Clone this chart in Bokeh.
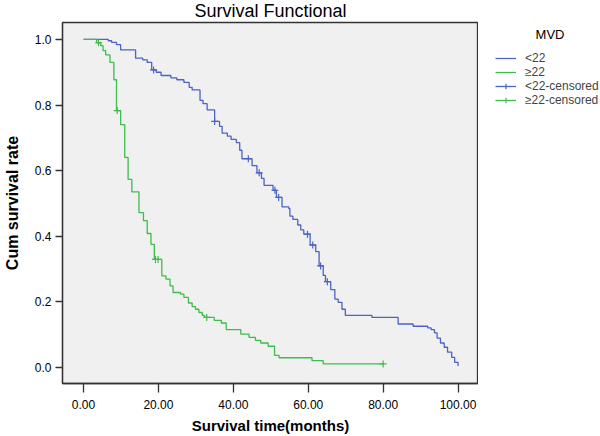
from bokeh.plotting import figure
from bokeh.layouts import row
from bokeh.models import Range1d, FixedTicker, Legend, LegendItem, Label
from bokeh.embed import file_html
from bokeh.resources import INLINE

# ---------------- data ----------------
# MVD < 22 : Kaplan-Meier steps (time in months, cumulative survival)
low_time = [0.0, 6.6, 7.5, 8.8, 9.9, 13.9, 15.8, 17.0, 18.2, 19.4, 20.7, 23.3, 24.9,
            26.8, 28.2, 29.0, 31.1, 31.9, 33.0, 35.0, 36.3, 37.0, 38.4, 39.4, 40.8,
            41.7, 42.3, 45.0, 46.3, 47.5, 48.2, 50.6, 51.5, 53.0, 54.8, 55.1, 55.9,
            57.2, 58.0, 58.8, 60.5, 62.0, 62.9, 64.0, 64.6, 66.0, 67.1, 68.0, 69.0,
            69.9, 77.0, 84.0, 88.0, 91.9, 92.8, 93.7, 94.4, 95.3, 96.3, 97.2, 98.3,
            99.1, 100.0]
low_surv = [1.000, 0.996, 0.991, 0.984, 0.968, 0.943, 0.938, 0.930, 0.907, 0.900, 0.890,
            0.883, 0.877, 0.869, 0.854, 0.846, 0.814, 0.804, 0.785, 0.750, 0.735, 0.714,
            0.705, 0.695, 0.685, 0.662, 0.636, 0.615, 0.593, 0.576, 0.555, 0.540, 0.518,
            0.489, 0.484, 0.461, 0.451, 0.434, 0.419, 0.406, 0.373, 0.353, 0.309, 0.280,
            0.261, 0.237, 0.208, 0.198, 0.177, 0.158, 0.152, 0.132, 0.125, 0.120, 0.115,
            0.105, 0.089, 0.074, 0.061, 0.046, 0.030, 0.015, 0.004]
low_cens_time = [18.7, 35.0, 44.0, 46.9, 51.1, 52.1, 59.8, 61.2, 63.3, 65.1]
low_cens_surv = [0.907, 0.750, 0.636, 0.593, 0.540, 0.518, 0.406, 0.373, 0.309, 0.261]

# MVD >= 22
high_time = [0.0, 3.5, 4.6, 5.2, 5.9, 7.05, 8.1, 8.8, 9.9, 11.0, 11.9, 12.9, 14.8, 16.0,
             17.0, 18.0, 18.9, 20.9, 22.0, 23.1, 23.9, 25.9, 26.8, 28.0, 29.0, 29.9,
             30.8, 31.7, 32.3, 34.9, 36.8, 38.1, 42.0, 44.2, 45.9, 47.3, 49.3, 51.0,
             52.2, 61.0, 64.0, 80.0]
high_surv = [1.000, 0.990, 0.981, 0.966, 0.953, 0.930, 0.877, 0.783, 0.740, 0.640, 0.573,
             0.535, 0.472, 0.447, 0.408, 0.375, 0.329, 0.279, 0.269, 0.248, 0.228, 0.223,
             0.213, 0.196, 0.185, 0.177, 0.167, 0.158, 0.152, 0.143, 0.135, 0.115, 0.101,
             0.091, 0.082, 0.074, 0.064, 0.036, 0.029, 0.020, 0.010, 0.010]
high_cens_time = [4.0, 9.0, 19.2, 19.9, 32.9, 80.0]
high_cens_surv = [0.990, 0.783, 0.329, 0.329, 0.152, 0.010]

series_labels = ["<22", "\u226522", "<22-censored", "\u226522-censored"]
legend_title = "MVD"
chart_title = "Survival Functional"
x_title = "Survival time(months)"
y_title = "Cum survival rate"
x_ticks = [0, 20, 40, 60, 80, 100]
x_tick_labels = ["0.00", "20.00", "40.00", "60.00", "80.00", "100.00"]
y_ticks = [0.0, 0.2, 0.4, 0.6, 0.8, 1.0]
y_tick_labels = ["0.0", "0.2", "0.4", "0.6", "0.8", "1.0"]

# ---------------- styling ----------------
BLUE = "#4a63c6"
GREEN = "#3dbd4a"
FONT = "Liberation Sans"
DARK = "#333333"
TOP = 22      # frame top (px)
BOTTOM = 384  # frame bottom (px)
Y0_PX, Y_PX_PER_UNIT = 367.7, 328.7   # pixel row of survival 0 and scale

# main plot: frame spans x 57..478, y TOP..BOTTOM
p = figure(width=478, height=436, output_backend="svg", toolbar_location=None,
           x_range=Range1d(-5.62, 105.46),
           y_range=Range1d((Y0_PX - BOTTOM) / Y_PX_PER_UNIT, (Y0_PX - TOP) / Y_PX_PER_UNIT),
           min_border_left=57, min_border_right=0, min_border_top=TOP,
           min_border_bottom=436 - BOTTOM, background_fill_color="#f0f0f0",
           border_fill_color="white")
p.grid.visible = False
p.outline_line_color = DARK
p.outline_line_width = 1.3

p.title.text = chart_title
p.title.align = "center"
p.title.vertical_align = "top"
p.title.text_font = FONT
p.title.text_font_size = "18px"
p.title.text_font_style = "normal"
p.title.text_color = "black"
p.title.standoff = 0

style = dict(line_width=1.3)
r_low = p.step(x=low_time, y=low_surv, mode="after", line_color=BLUE, **style)
r_high = p.step(x=high_time, y=high_surv, mode="after", line_color=GREEN, **style)
p.scatter(x=low_cens_time, y=low_cens_surv, marker="cross", size=7,
          line_color=BLUE, line_width=1.2)
p.scatter(x=high_cens_time, y=high_cens_surv, marker="cross", size=7,
          line_color=GREEN, line_width=1.2)

for ax in (p.xaxis[0], p.yaxis[0]):
    ax.axis_line_color = DARK
    ax.axis_line_width = 1.3
    ax.major_tick_line_color = DARK
    ax.major_tick_line_width = 1.3
    ax.minor_tick_line_color = None
    ax.major_tick_in = 0
    ax.major_label_text_font = FONT
    ax.major_label_text_font_size = "12px"
    ax.major_label_text_color = "black"
    ax.axis_label_text_font = FONT
    ax.axis_label_text_font_style = "bold"
    ax.axis_label_text_color = "black"

p.xaxis.ticker = FixedTicker(ticks=x_ticks)
p.xaxis.major_label_overrides = {t: s for t, s in zip(x_ticks, x_tick_labels)}
p.xaxis.major_tick_out = 9
p.xaxis.major_label_standoff = 7
p.xaxis.axis_label = x_title
p.xaxis.axis_label_text_font_size = "15px"
p.xaxis.axis_label_standoff = 5

p.yaxis.ticker = FixedTicker(ticks=y_ticks)
p.yaxis.major_label_overrides = {t: s for t, s in zip(y_ticks, y_tick_labels)}
p.yaxis.major_tick_out = 7
p.yaxis.major_label_standoff = 4
p.yaxis.axis_label = y_title
p.yaxis.axis_label_text_font_size = "16px"
p.yaxis.axis_label_standoff = 11

# legend panel: frame is aligned with the main frame (TOP..BOTTOM);
# pixel-like coordinates, y downwards
q = figure(width=122, height=436, output_backend="svg", toolbar_location=None,
           x_range=Range1d(0, 122), y_range=Range1d(BOTTOM, TOP),
           x_axis_location=None, y_axis_location=None,
           min_border=0, min_border_top=TOP, min_border_bottom=436 - BOTTOM,
           outline_line_color=None,
           background_fill_color="white", border_fill_color="white")
q.grid.visible = False

lq_low = q.step(x=low_time, y=low_surv, mode="after", line_color=BLUE, visible=False, **style)
lq_high = q.step(x=high_time, y=high_surv, mode="after", line_color=GREEN, visible=False, **style)
lq_low_c = q.scatter(x=low_cens_time, y=low_cens_surv, marker="cross", size=7,
                     line_color=BLUE, line_width=1.2, visible=False)
lq_high_c = q.scatter(x=high_cens_time, y=high_cens_surv, marker="cross", size=7,
                      line_color=GREEN, line_width=1.2, visible=False)

q.add_layout(Label(x=71.5, y=34, text=legend_title, text_align="center",
                   text_baseline="middle", text_font=FONT, text_font_size="13px",
                   text_color="black"))

legend = Legend(items=[
    LegendItem(label=series_labels[0], renderers=[lq_low]),
    LegendItem(label=series_labels[1], renderers=[lq_high]),
    LegendItem(label=series_labels[2], renderers=[lq_low, lq_low_c]),
    LegendItem(label=series_labels[3], renderers=[lq_high, lq_high_c]),
], location=(17, BOTTOM - 108))
legend.margin = 0
legend.padding = 0
legend.spacing = 0
legend.glyph_width = 21
legend.glyph_height = 14
legend.label_height = 14
legend.label_standoff = 9
legend.label_text_font = FONT
legend.label_text_font_size = "12px"
legend.border_line_alpha = 0
legend.background_fill_alpha = 0
legend.inactive_fill_alpha = 0
q.add_layout(legend, "center")

layout = row(p, q, spacing=0)
open("out.html", "w").write(file_html(layout, INLINE))
